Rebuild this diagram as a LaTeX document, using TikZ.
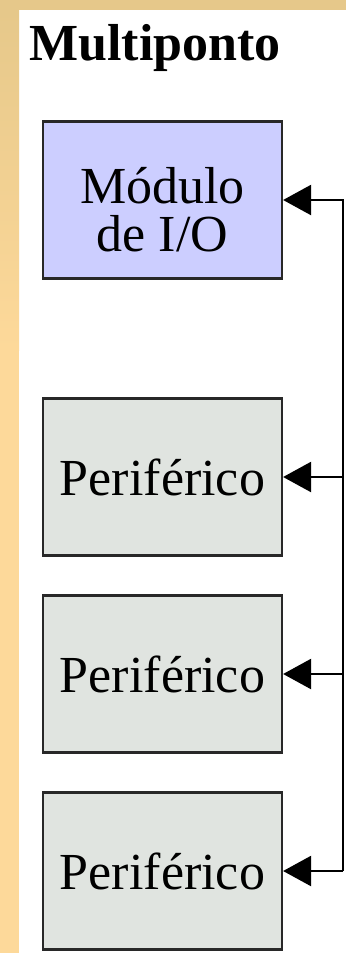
\documentclass[tikz,border=0pt]{standalone}
\usepackage{fontspec}
\setmainfont{Liberation Serif}
\usetikzlibrary{arrows.meta}

\definecolor{strip}{RGB}{230,200,138}
\definecolor{stripl}{RGB}{253,217,154}
\definecolor{iofill}{RGB}{204,206,255}
\definecolor{perfill}{RGB}{224,228,224}
\definecolor{edge}{RGB}{40,40,40}

\begin{document}
\begin{tikzpicture}[x=1pt,y=-1pt,
					every node/.style = {font=\fontsize{52}{48}\selectfont},
					bus/.style = {line width=2.4pt, -{Triangle[length=28pt,width=30pt]}}]

\tikzstyle{unit}=[rectangle, draw=edge, line width=2.2pt, inner sep=0pt, minimum width=239pt, minimum height=157pt]
\tikzstyle{iounit}=[unit, fill=iofill]
\tikzstyle{periph}=[unit, fill=perfill]

\useasboundingbox (0,0) rectangle (346,953);
\fill[white] (0,0) rectangle (346,953);
\fill[strip] (0,0) rectangle (346,10);
\shade[top color=strip, bottom color=stripl] (0,10) rectangle (19,350);
\fill[stripl] (0,350) rectangle (19,953);

\node[anchor=base west, font=\fontsize{52}{48}\selectfont\bfseries] (title) at (26,60) {Multiponto};

\node[iounit] (io) at (162.5,200) {};
\node[anchor=base] (io1) at (162.5,203) {Módulo};
\node[anchor=base] (io2) at (162.5,251) {de I/O};

\node[periph] (p1) at (162.5,477) {Periférico};
\node[periph] (p2) at (162.5,674) {Periférico};
\node[periph] (p3) at (162.5,871) {Periférico};

\coordinate (bb) at ([xshift=60pt]p3.east);
\draw[bus] (bb) |- (io.east);
\draw[bus] (bb |- p1.east) -- (p1.east);
\draw[bus] (bb |- p2.east) -- (p2.east);
\draw[bus] (bb) -- (p3.east);
\end{tikzpicture}
\end{document}
